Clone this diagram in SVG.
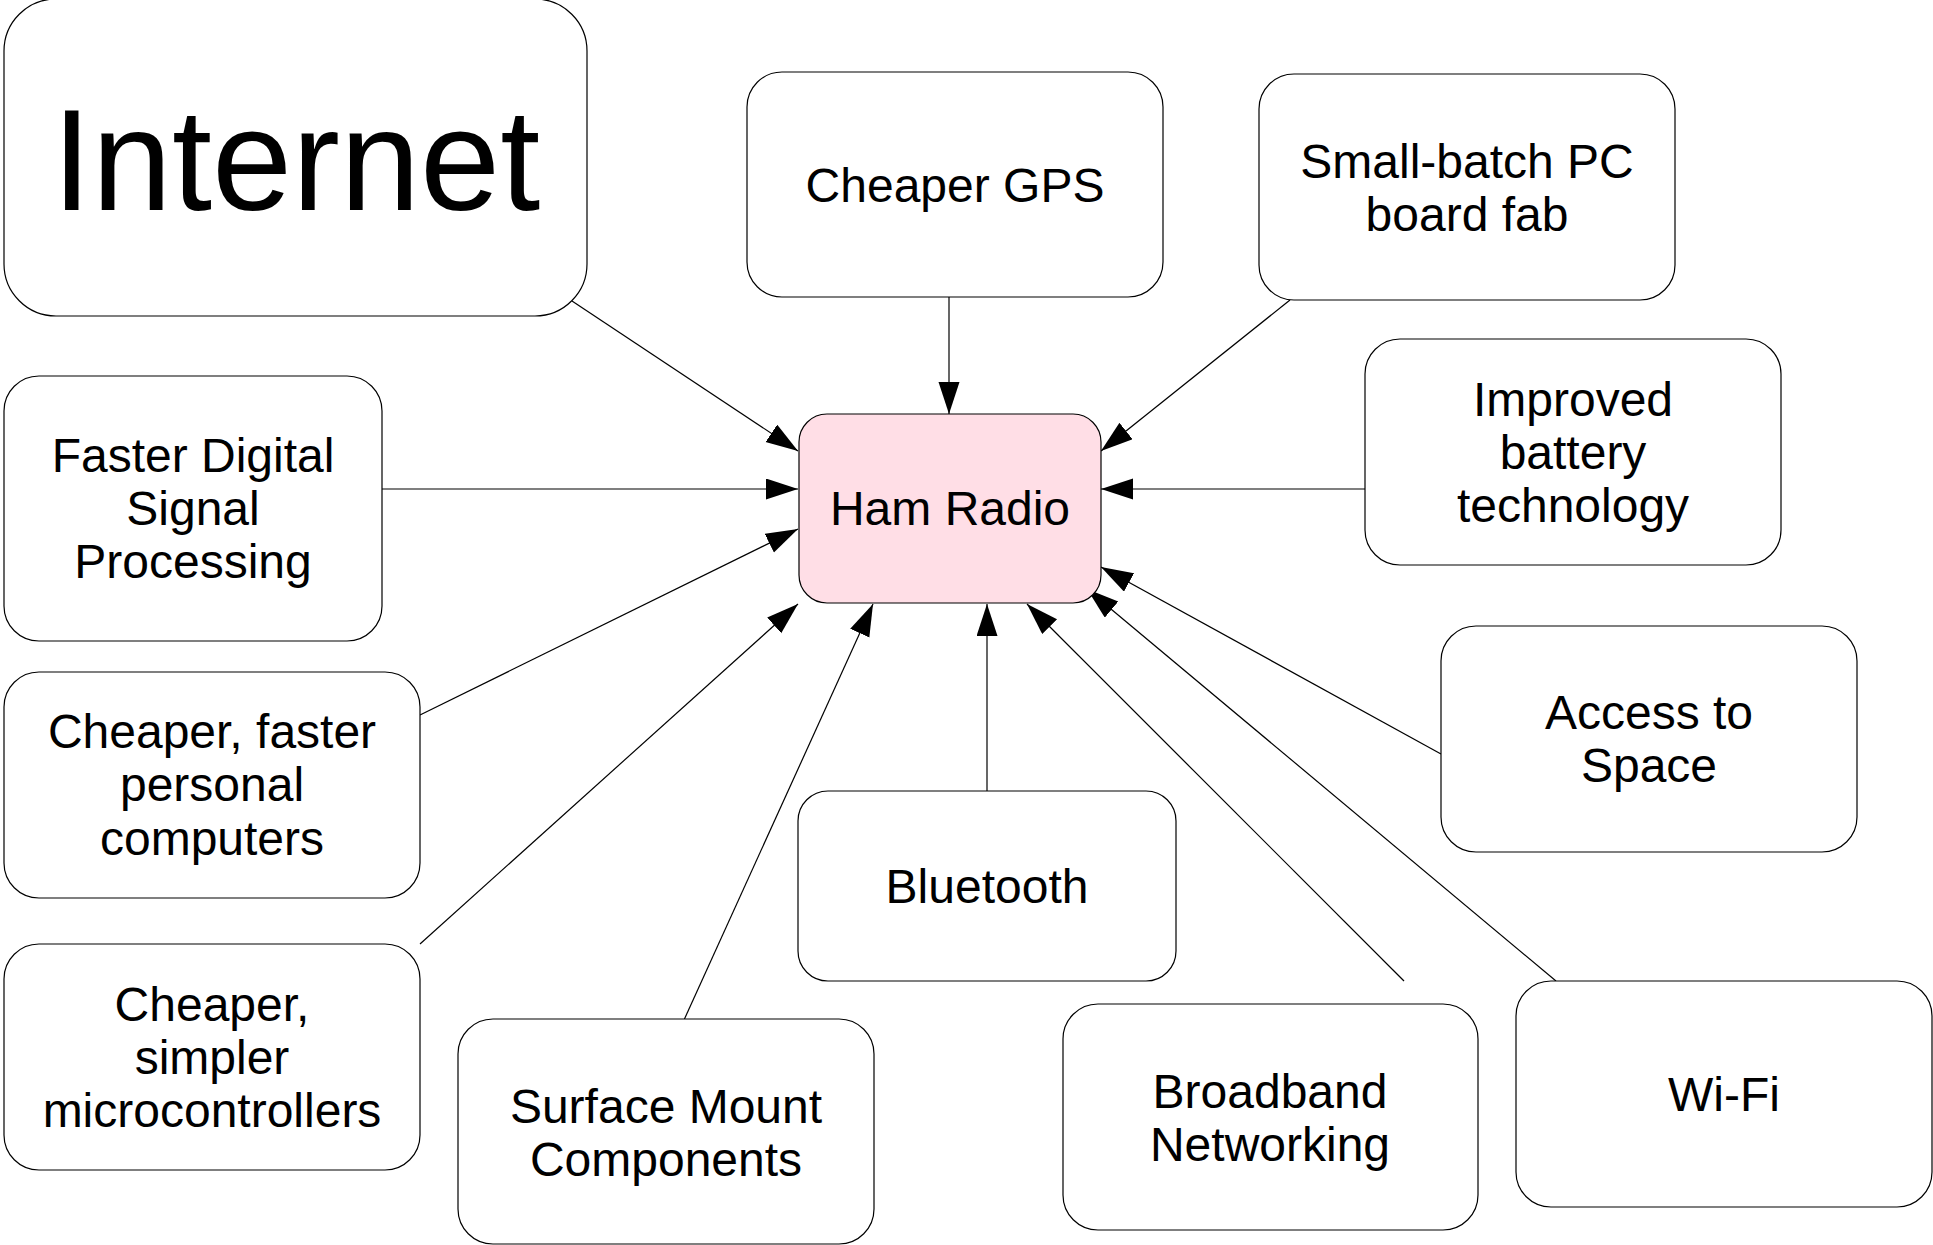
<svg xmlns="http://www.w3.org/2000/svg" width="1933" height="1245" viewBox="0 0 1933 1245">
<style>
.box{fill:#ffffff;stroke:#000000;stroke-width:1.2}
.hub{fill:#ffdee6;stroke:#000000;stroke-width:1.2}
text{font-family:"Liberation Sans",Arial,sans-serif;font-size:48px;fill:#000000;text-anchor:middle}
.big{font-size:144px}
.edge{stroke:#000000;stroke-width:1.2;fill:none;marker-end:url(#arrow)}
</style>
<defs>
<marker id="arrow" markerUnits="userSpaceOnUse" markerWidth="34" markerHeight="22" refX="32" refY="10.5" orient="auto">
<path d="M0,0 L32,10.5 L0,21 Z" fill="#000000"/>
</marker>
</defs>
<rect width="1933" height="1245" fill="#ffffff"/>
<g id="connectors">
<line class="edge" x1="572" y1="301" x2="798" y2="451"/>
<line class="edge" x1="949" y1="297" x2="949" y2="414"/>
<line class="edge" x1="1290" y1="300" x2="1101" y2="451"/>
<line class="edge" x1="1365" y1="489" x2="1101" y2="489"/>
<line class="edge" x1="1441" y1="754" x2="1101" y2="567"/>
<line class="edge" x1="1556" y1="981" x2="1087" y2="589"/>
<line class="edge" x1="1404" y1="981" x2="1027" y2="604"/>
<line class="edge" x1="987" y1="791" x2="987" y2="604"/>
<line class="edge" x1="684" y1="1020" x2="873" y2="604"/>
<line class="edge" x1="420" y1="944" x2="798" y2="604"/>
<line class="edge" x1="420" y1="715" x2="798" y2="529"/>
<line class="edge" x1="382" y1="489" x2="798" y2="489"/>
</g>
<g id="internet">
<rect class="box" x="4" y="-1" width="583" height="317" rx="52"/>
<text class="big" x="296" y="210">Internet</text>
</g>
<g id="gps">
<rect class="box" x="747" y="72" width="416" height="225" rx="35"/>
<text x="955" y="202">Cheaper GPS</text>
</g>
<g id="pcb">
<rect class="box" x="1259" y="74" width="416" height="226" rx="35"/>
<text x="1467" y="178">Small-batch PC</text>
<text x="1467" y="231">board fab</text>
</g>
<g id="battery">
<rect class="box" x="1365" y="339" width="416" height="226" rx="35"/>
<text x="1573" y="416">Improved</text>
<text x="1573" y="469">battery</text>
<text x="1573" y="522">technology</text>
</g>
<g id="space">
<rect class="box" x="1441" y="626" width="416" height="226" rx="35"/>
<text x="1649" y="729">Access to</text>
<text x="1649" y="782">Space</text>
</g>
<g id="wifi">
<rect class="box" x="1516" y="981" width="416" height="226" rx="35"/>
<text x="1724" y="1111">Wi-Fi</text>
</g>
<g id="broadband">
<rect class="box" x="1063" y="1004" width="415" height="226" rx="35"/>
<text x="1270" y="1108">Broadband</text>
<text x="1270" y="1161">Networking</text>
</g>
<g id="bluetooth">
<rect class="box" x="798" y="791" width="378" height="190" rx="30"/>
<text x="987" y="903">Bluetooth</text>
</g>
<g id="smt">
<rect class="box" x="458" y="1019" width="416" height="225" rx="35"/>
<text x="666" y="1123">Surface Mount</text>
<text x="666" y="1176">Components</text>
</g>
<g id="micro">
<rect class="box" x="4" y="944" width="416" height="226" rx="35"/>
<text x="212" y="1021">Cheaper,</text>
<text x="212" y="1074">simpler</text>
<text x="212" y="1127">microcontrollers</text>
</g>
<g id="pc">
<rect class="box" x="4" y="672" width="416" height="226" rx="35"/>
<text x="212" y="748">Cheaper, faster</text>
<text x="212" y="801">personal</text>
<text x="212" y="855">computers</text>
</g>
<g id="dsp">
<rect class="box" x="4" y="376" width="378" height="265" rx="35"/>
<text x="193" y="472">Faster Digital</text>
<text x="193" y="525">Signal</text>
<text x="193" y="578">Processing</text>
</g>
<g id="ham">
<rect class="hub" x="799" y="414" width="302" height="189" rx="28"/>
<text x="950" y="525">Ham Radio</text>
</g>
</svg>
